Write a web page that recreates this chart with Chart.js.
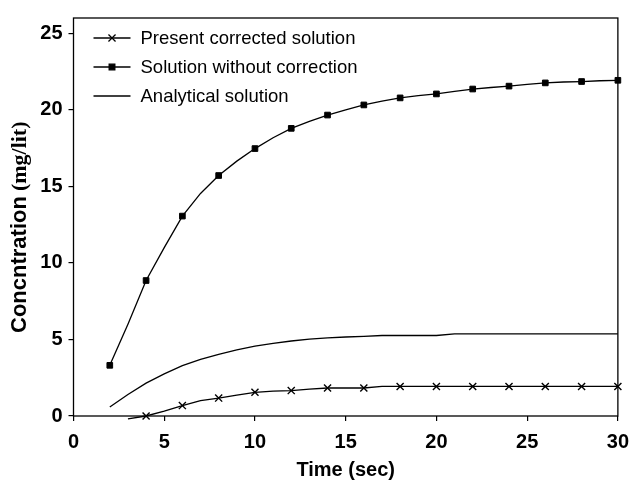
<!DOCTYPE html>
<html>
<head>
<meta charset="utf-8">
<title>Concentration vs time</title>
<script src="https://cdn.jsdelivr.net/npm/chart.js@4.4.0/dist/chart.umd.min.js"></script>
<style>
  html, body { margin: 0; padding: 0; background: #fff; }
</style>
</head>
<body>
<canvas id="chart" width="638" height="484"></canvas>
<script>
// Data (time in sec, concentration in mg/lit)
const timeCorrected = [3, 4, 5, 6, 7, 8, 9, 10, 11, 12, 13, 14, 15, 16, 17, 18, 19, 20, 21, 22, 23, 24, 25, 26, 27, 28, 29, 30];
const valuesCorrected = [-0.19, 0.0, 0.32, 0.68, 1.0, 1.17, 1.37, 1.55, 1.63, 1.66, 1.75, 1.83, 1.83, 1.83, 1.93, 1.93, 1.93, 1.93, 1.93, 1.93, 1.93, 1.93, 1.93, 1.93, 1.93, 1.93, 1.93, 1.93];

const timeUncorrected = [2, 3, 4, 5, 6, 7, 8, 9, 10, 11, 12, 13, 14, 15, 16, 17, 18, 19, 20, 21, 22, 23, 24, 25, 26, 27, 28, 29, 30];
const valuesUncorrected = [3.31, 6.0, 8.85, 11.0, 13.06, 14.54, 15.71, 16.65, 17.47, 18.18, 18.79, 19.25, 19.66, 20.0, 20.32, 20.57, 20.78, 20.93, 21.04, 21.2, 21.36, 21.46, 21.55, 21.66, 21.76, 21.82, 21.85, 21.9, 21.93];

const timeAnalytical = [2, 3, 4, 5, 6, 7, 8, 9, 10, 11, 12, 13, 14, 15, 16, 17, 18, 19, 20, 21, 22, 23, 24, 25, 26, 27, 28, 29, 30];
const valuesAnalytical = [0.59, 1.4, 2.15, 2.75, 3.29, 3.7, 4.03, 4.32, 4.56, 4.75, 4.9, 5.02, 5.11, 5.16, 5.2, 5.26, 5.26, 5.26, 5.26, 5.37, 5.37, 5.37, 5.37, 5.37, 5.37, 5.37, 5.37, 5.37, 5.37];

const xTicks = [0, 5, 10, 15, 20, 25, 30];
const yTicks = [0, 5, 10, 15, 20, 25];

const SANS = '"Liberation Sans", Arial, sans-serif';
const SERIF = '"Liberation Serif", "Times New Roman", serif';

function toPoints(xs, ys) {
  return xs.map((x, i) => ({ x: x, y: ys[i] }));
}

// markers only every 2 sec
function markerRadius(r) {
  return ctx => (ctx.raw && ctx.raw.x % 2 === 0 ? r : 0);
}

// box around the plot area
const framePlugin = {
  id: 'frame',
  afterDraw(chart) {
    const { ctx, chartArea: a } = chart;
    ctx.save();
    ctx.strokeStyle = '#000';
    ctx.lineWidth = 1.3;
    ctx.strokeRect(a.left, a.top, a.right - a.left, a.bottom - a.top);
    ctx.restore();
  }
};

// legend inside the plot, top left
const insideLegend = {
  id: 'insideLegend',
  afterDraw(chart) {
    const { ctx, chartArea: a } = chart;
    const x0 = a.left + 20, x1 = a.left + 57;
    ctx.save();
    chart.data.datasets.forEach((ds, i) => {
      const y = a.top + 20 + i * 29;
      ctx.strokeStyle = '#000';
      ctx.fillStyle = '#000';
      ctx.lineWidth = ds.borderWidth;
      ctx.beginPath();
      ctx.moveTo(x0, y);
      ctx.lineTo(x1, y);
      ctx.stroke();
      if (ds.pointStyle && ds.legendRadius) {
        Chart.helpers.drawPoint(ctx, {
          pointStyle: ds.pointStyle,
          radius: ds.legendRadius,
          rotation: 0,
          borderWidth: ds.borderWidth
        }, (x0 + x1) / 2, y);
      }
      ctx.font = '18.5px ' + SANS;
      ctx.textAlign = 'left';
      ctx.textBaseline = 'middle';
      ctx.fillText(ds.label, x1 + 10, y + 1);
    });
    ctx.restore();
  }
};

// y title: sans part + serif unit part
const yTitle = {
  id: 'yTitle',
  afterDraw(chart) {
    const { ctx } = chart;
    const part1 = 'Concntration';
    const part2 = '(mg/lit)';
    ctx.save();
    ctx.translate(25.5, 333);
    ctx.rotate(-Math.PI / 2);
    ctx.fillStyle = '#000';
    ctx.textAlign = 'left';
    ctx.textBaseline = 'alphabetic';
    ctx.font = 'bold 22px ' + SANS;
    ctx.fillText(part1, 0, 0);
    const w1 = ctx.measureText(part1).width;
    ctx.font = 'bold 22px ' + SERIF;
    ctx.fillText(part2, w1 + 5, 0);
    ctx.restore();
  }
};

const chart = new Chart(document.getElementById('chart'), {
  type: 'line',
  data: {
    datasets: [
      {
        label: 'Present corrected solution',
        data: toPoints(timeCorrected, valuesCorrected),
        borderColor: '#000',
        backgroundColor: '#000',
        borderWidth: 1.3,
        pointStyle: 'crossRot',
        pointRadius: markerRadius(5),
        pointBorderWidth: 1.4,
        legendRadius: 5,
        clip: false,
        tension: 0
      },
      {
        label: 'Solution without correction',
        data: toPoints(timeUncorrected, valuesUncorrected),
        borderColor: '#000',
        backgroundColor: '#000',
        borderWidth: 1.3,
        pointStyle: 'rect',
        pointRadius: markerRadius(4),
        pointBorderWidth: 1,
        legendRadius: 4,
        clip: false,
        tension: 0
      },
      {
        label: 'Analytical solution',
        data: toPoints(timeAnalytical, valuesAnalytical),
        borderColor: '#000',
        borderWidth: 1.3,
        pointRadius: 0,
        legendRadius: 0,
        clip: false,
        tension: 0
      }
    ]
  },
  options: {
    responsive: false,
    animation: false,
    devicePixelRatio: 1,
    layout: { padding: { left: 0, right: 14, top: 7, bottom: 0 } },
    plugins: {
      legend: { display: false },
      tooltip: { enabled: false }
    },
    scales: {
      x: {
        type: 'linear',
        min: 0,
        max: 30,
        afterBuildTicks: s => { s.ticks = xTicks.map(v => ({ value: v })); },
        afterFit: s => { s.height = 68; },
        border: { display: false },
        grid: { drawOnChartArea: false, tickLength: 5, color: '#000', lineWidth: 1.2 },
        ticks: {
          color: '#000',
          padding: 9,
          maxRotation: 0,
          font: { family: SANS, size: 20, weight: 'bold' }
        },
        title: {
          display: true,
          text: 'Time (sec)',
          color: '#000',
          font: { family: SANS, size: 20, weight: 'bold' },
          padding: { top: 0, bottom: 2 }
        }
      },
      y: {
        min: 0,
        max: 26,
        afterBuildTicks: s => { s.ticks = yTicks.map(v => ({ value: v })); },
        afterFit: s => { s.width = 73.5; },
        border: { display: false },
        grid: { drawOnChartArea: false, tickLength: 5, color: '#000', lineWidth: 1.2 },
        ticks: {
          color: '#000',
          padding: 6,
          font: { family: SANS, size: 20, weight: 'bold' }
        }
      }
    }
  },
  plugins: [framePlugin, insideLegend, yTitle]
});
</script>
</body>
</html>
